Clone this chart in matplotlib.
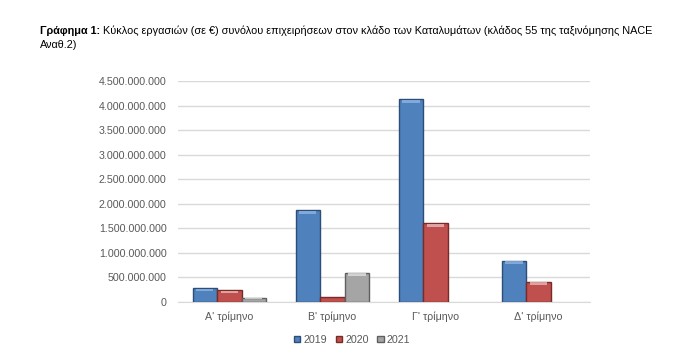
import matplotlib
matplotlib.use("Agg")
import matplotlib.pyplot as plt
import numpy as np
from matplotlib.ticker import FuncFormatter

categories = ["Α' τρίμηνο", "Β' τρίμηνο", "Γ' τρίμηνο", "Δ' τρίμηνο"]
years = ["2019", "2020", "2021"]
v2019 = [270e6, 1865e6, 4130e6, 830e6]
v2020 = [230e6, 90e6, 1595e6, 400e6]
v2021 = [80e6, 590e6, 0, 0]
series = [v2019, v2020, v2021]
colors = ["#4F81BD", "#C0504D", "#A5A5A5"]
edges = ["#2C4D75", "#772C2A", "#5F5F5F"]
highlights = ["#8EB4E3", "#E6B9B8", "#E0E0E0"]

plt.rcParams['font.family'] = ['Liberation Sans', 'DejaVu Sans']

fig = plt.figure(figsize=(7, 3.54), dpi=100)
ax = fig.add_axes([0.254, 0.148, 0.589, 0.623])

x = np.arange(len(categories))
w = 0.238
for i, (vals, c, e, h) in enumerate(zip(series, colors, edges, highlights)):
    pos = x + (i - 1) * w
    ecs = [e if v > 0 else 'none' for v in vals]
    ax.bar(pos, vals, width=w, color=c, edgecolor=ecs, linewidth=1.0, zorder=3, label=years[i])
    # bevel highlight at top
    for p, v in zip(pos, vals):
        if v > 0:
            hh = min(v * 0.15, 60e6)
            ax.bar(p, hh, bottom=v - hh - 10e6, width=w * 0.7, color=h, linewidth=0, zorder=4, alpha=0.8)

ax.set_xlim(-0.5, 3.5)
ax.set_ylim(0, 4.5e9)
ax.set_yticks(np.arange(0, 4.5e9 + 1, 5e8))
ax.yaxis.set_major_formatter(FuncFormatter(lambda v, p: f"{int(v):,}".replace(",", ".")))
ax.set_xticks(x)
ax.set_xticklabels(categories)
ax.grid(axis='y', color='#D9D9D9', linewidth=1.0, zorder=0)
for s in ax.spines.values():
    s.set_visible(False)
ax.spines['bottom'].set_visible(True)
ax.spines['bottom'].set_color('#D9D9D9')
ax.tick_params(axis='both', length=0, labelsize=7.7, colors='#595959', pad=8)
ax.tick_params(axis='x', pad=7)

handles = [plt.Rectangle((0, 0), 1, 1, facecolor=c, edgecolor=e) for c, e in zip(colors, edges)]
fig.legend(handles, years, loc='center', bbox_to_anchor=(0.503, 0.04), ncol=3, frameon=False,
           fontsize=7.7, handlelength=0.6, handleheight=0.6, handletextpad=0.3, columnspacing=0.8,
           labelcolor='#595959')

# Title
fig.canvas.draw()
r = fig.canvas.get_renderer()
t1 = fig.text(40 / 700, 1 - 31 / 354, "Γράφημα 1:", fontsize=7.8, fontweight='bold', va='center', ha='left')
bb = t1.get_window_extent(renderer=r)
fig.text((bb.x1 + 3) / 700, 1 - 31 / 354,
         "Κύκλος εργασιών (σε €) συνόλου επιχειρήσεων στον κλάδο των Καταλυμάτων (κλάδος 55 της ταξινόμησης NACE",
         fontsize=7.8, va='center', ha='left')
fig.text(40 / 700, 1 - 45 / 354, "Αναθ.2)", fontsize=7.8, va='center', ha='left')

fig.savefig("out.png", dpi=100)
